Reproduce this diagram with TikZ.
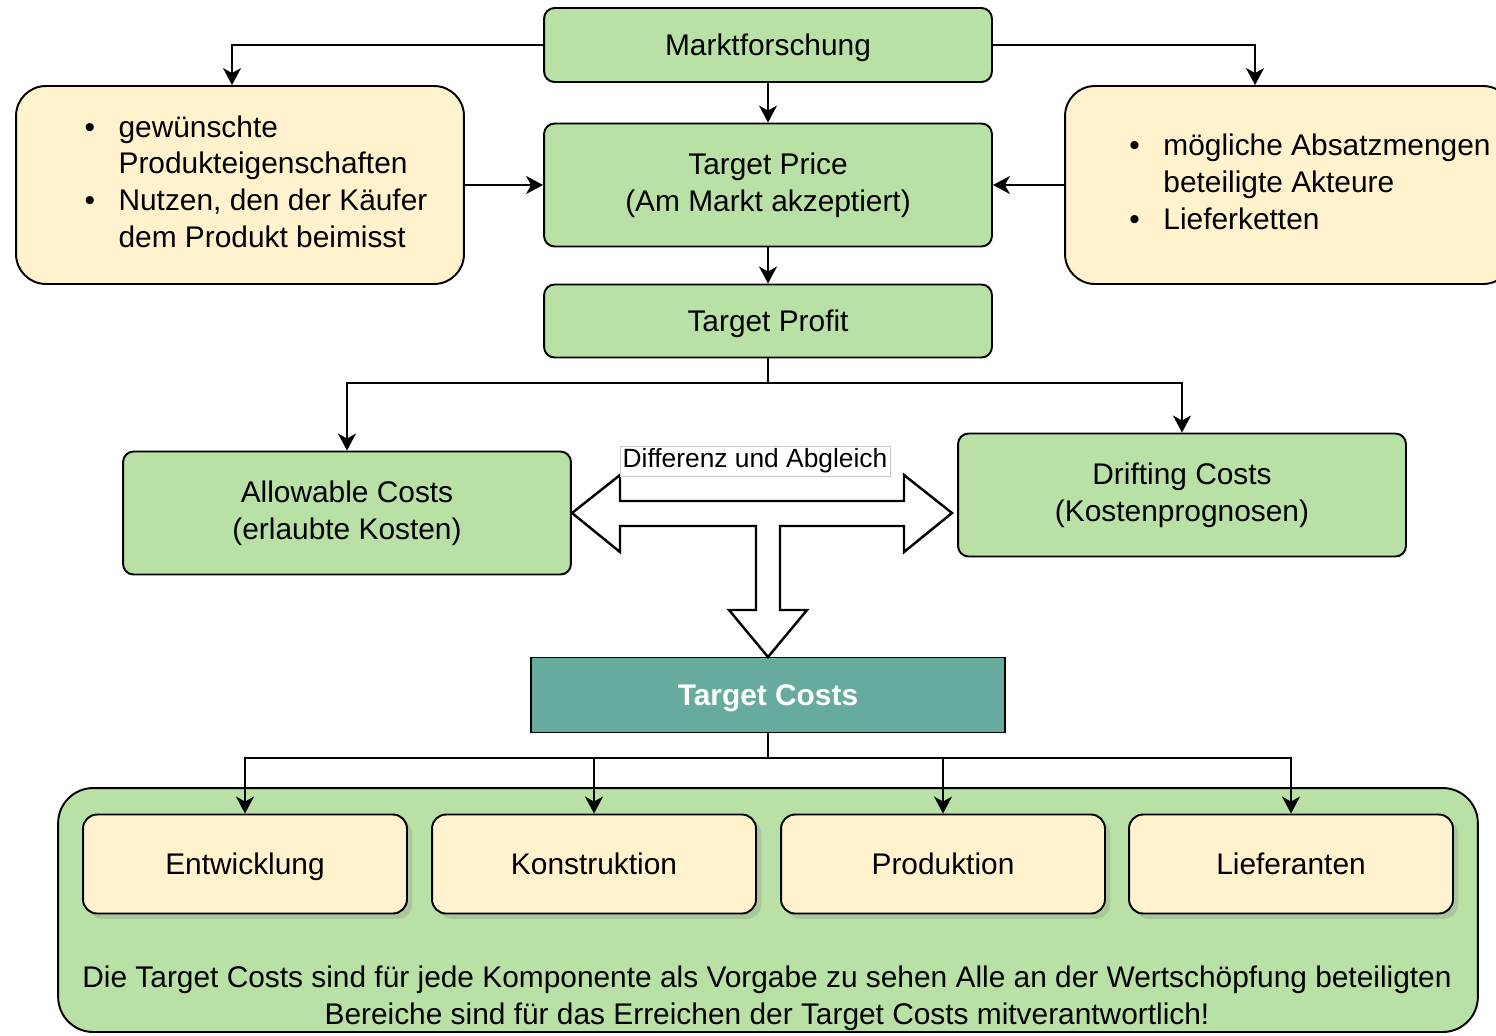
\documentclass[tikz,border=0pt]{standalone}
\usepackage{fontspec}
\setmainfont{Liberation Sans}
\usetikzlibrary{arrows.meta,shadows}
\definecolor{boxGreen}{HTML}{B9E0A5}
\definecolor{boxYellow}{HTML}{FFF2CC}
\definecolor{boxTeal}{HTML}{67AB9F}
\definecolor{labelGray}{RGB}{200,200,200}
\newcommand{\mainsize}{\fontsize{17}{21}\selectfont}

\begin{document}
\begin{tikzpicture}[x=0.02cm, y=-0.02cm,
      stage/.style={draw, line width=1.1pt, rounded corners=6pt, fill=boxGreen,
                    minimum width=8.96cm, font=\mainsize, align=center},
      oneline/.style={text height=14pt, text depth=2pt},
      info/.style={draw, line width=1.1pt, rounded corners=17pt, fill=boxYellow,
                   minimum width=8.96cm, minimum height=3.96cm, font=\mainsize},
      part/.style={draw, line width=1.1pt, rounded corners=8pt, fill=boxYellow,
                   minimum width=6.48cm, minimum height=1.98cm, font=\mainsize, oneline,
                   drop shadow={opacity=0.25, shadow xshift=3pt, shadow yshift=-3pt}},
      arrow/.style={-{Stealth[length=0.34cm, width=0.36cm, inset=0.1cm]}, line width=1.1pt}
    ]
    \useasboundingbox (0,0) rectangle (1496,1035);

    \node[stage, oneline, minimum height=1.48cm] (markt)  at (768,45)  {Marktforschung};
    \node[stage, minimum height=2.46cm] (price)  at (768,185) {Target Price\\(Am Markt akzeptiert)};
    \node[stage, oneline, minimum height=1.46cm] (profit) at (768,321) {Target Profit};
    \node[stage, minimum height=2.46cm] (allow)  at (347,513) {Allowable Costs\\(erlaubte Kosten)};
    \node[stage, minimum height=2.46cm] (drift)  at (1182,495){Drifting Costs\\(Kostenprognosen)};
    \node[stage, oneline, fill=boxTeal, rounded corners=0pt, minimum width=9.48cm, minimum height=1.5cm,
          text=white, font=\mainsize\bfseries] (tcost) at (768,695) {Target Costs};

    \node[info] (wishes) at (240,185) {\begin{tabular}{@{\hspace{0.64cm}}p{0.68cm}@{}l@{}}
        \textbullet & gewünschte\\
                    & Produkteigenschaften\\
        \textbullet & Nutzen, den der Käufer\\
                    & dem Produkt beimisst
      \end{tabular}};
    \node[info] (market) at (1289,185) {\begin{tabular}{@{\hspace{0.84cm}}p{0.68cm}@{}l@{}}
        \textbullet & mögliche Absatzmengen\\
                    & beteiligte Akteure\\
        \textbullet & Lieferketten
      \end{tabular}};

    % Bereich mit den Komponenten
    \node[draw, line width=1.1pt, rounded corners=20pt, fill=boxGreen,
          minimum width=28.4cm, minimum height=4.88cm] (area) at (768,910) {};
    \node[part] (dev)    at (245,864)  {Entwicklung};
    \node[part] (design) at (594,864)  {Konstruktion};
    \node[part] (prod)   at (943,864)  {Produktion};
    \node[part] (supply) at (1291,864) {Lieferanten};
    \node[font=\mainsize, align=center] (note) at (767,998)
      {Die Target Costs sind für jede Komponente als Vorgabe zu sehen Alle an der Wertschöpfung beteiligten\\
       Bereiche sind für das Erreichen der Target Costs mitverantwortlich!};

    % Doppelpfeil mit Abzweig nach unten
    \draw[line width=1.4pt, fill=white] (572,513) -- (620,475) -- (620,501) -- (904,501)
      -- (904,475) -- (952,513) -- (904,552) -- (904,526) -- (780,526) -- (780,610)
      -- (807,610) -- (768,657) -- (729,610) -- (756,610) -- (756,526) -- (620,526)
      -- (620,552) -- cycle;
    \node[draw=labelGray, fill=white, font=\fontsize{15}{18}\selectfont, inner sep=1.5pt]
      (gap) at (755,461) {Differenz und Abgleich};

    \draw[arrow] (markt.west) -| ([xshift=-0.16cm]wishes.north);
    \draw[arrow] (markt.east) -| ([xshift=-0.68cm]market.north);
    \draw[arrow] (markt)  -- (price);
    \draw[arrow] (wishes) -- (price);
    \draw[arrow] (market) -- (price);
    \draw[arrow] (price)  -- (profit);

    \coordinate (split) at (768,383);
    \draw[arrow] (profit.south) -- (split) -| (allow.north);
    \draw[arrow] (profit.south) -- (split) -| (drift.north);

    \coordinate (fork) at (768,758);
    \foreach \n in {dev,design,prod,supply}
      \draw[arrow] (tcost.south) -- (fork) -| (\n.north);
  \end{tikzpicture}
\end{document}
